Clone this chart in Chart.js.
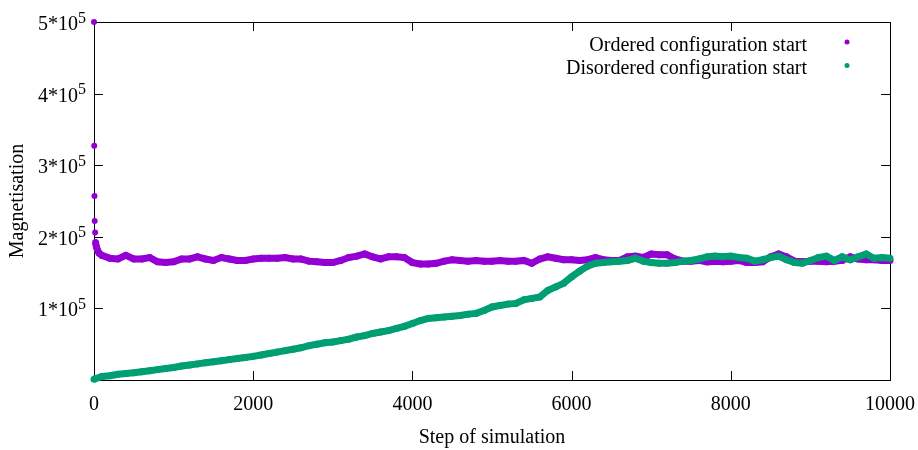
<!DOCTYPE html>
<html>
<head>
<meta charset="utf-8">
<script src="https://cdn.jsdelivr.net/npm/chart.js@4.4.0/dist/chart.umd.min.js"></script>
<style>
  html, body { margin: 0; padding: 0; background: #fff; }
</style>
</head>
<body>
<canvas id="chart" width="918" height="450"></canvas>
<script>
// steps of the simulation, one reading every 100 steps
const steps = [
  0, 100, 200, 300, 400, 500, 600, 700, 800, 900,
  1000, 1100, 1200, 1300, 1400, 1500, 1600, 1700, 1800, 1900,
  2000, 2100, 2200, 2300, 2400, 2500, 2600, 2700, 2800, 2900,
  3000, 3100, 3200, 3300, 3400, 3500, 3600, 3700, 3800, 3900,
  4000, 4100, 4200, 4300, 4400, 4500, 4600, 4700, 4800, 4900,
  5000, 5100, 5200, 5300, 5400, 5500, 5600, 5700, 5800, 5900,
  6000, 6100, 6200, 6300, 6400, 6500, 6600, 6700, 6800, 6900,
  7000, 7100, 7200, 7300, 7400, 7500, 7600, 7700, 7800, 7900,
  8000, 8100, 8200, 8300, 8400, 8500, 8600, 8700, 8800, 8900,
  9000, 9100, 9200, 9300, 9400, 9500, 9600, 9700, 9800, 9900, 10000
];

// ordered start: the first few steps fall off fast, drawn as loose dots
const orderedJumpSteps = [0, 3, 6, 9, 14];
const orderedJumpValues = [500000, 327000, 257000, 222000, 206000];
const orderedSettleSteps = [20, 30, 45, 65];
const orderedSettleValues = [192000, 186000, 181000, 177000];

// ordered start, from step 0 (index 0 is covered by the dots above)
const orderedValues = [
  null, 174000, 170000, 169000, 174000, 169000, 169000, 171000, 165000, 164000,
  165000, 169000, 169000, 172000, 169000, 167000, 171000, 169000, 167000, 167000,
  169000, 170000, 170000, 170000, 171000, 169000, 169000, 166000, 165000, 164000,
  164000, 167000, 171000, 173000, 176000, 172000, 169000, 172000, 172000, 171000,
  164000, 162000, 162000, 163000, 166000, 168000, 167000, 166000, 167000, 166000,
  166000, 167000, 166000, 166000, 167000, 163000, 169000, 172000, 170000, 168000,
  168000, 167000, 168000, 171000, 168000, 167000, 167000, 172000, 173000, 171000,
  176000, 175000, 175000, 169000, 166000, 166000, 167000, 165000, 166000, 165000,
  166000, 167000, 164000, 164000, 165000, 172000, 176000, 172000, 166000, 165000,
  166000, 166000, 165000, 166000, 167000, 172000, 169000, 168000, 168000, 167000, 167000
];

const disorderedValues = [
  1000, 5000, 6000, 8000, 9000, 10000, 11500, 13000, 14500, 16000,
  17500, 19500, 21000, 22500, 24000, 25500, 27000, 28500, 30000, 31500,
  33000, 35000, 37000, 39000, 41000, 43000, 45000, 48000, 50000, 52000,
  53000, 55000, 57000, 60000, 62000, 65000, 67000, 69000, 72000, 75000,
  79000, 83000, 86000, 87000, 88000, 89000, 90000, 92000, 93000, 97000,
  102000, 104000, 106000, 107000, 112000, 114000, 116000, 125000, 130000, 135000,
  144000, 152000, 159000, 163000, 164000, 165000, 166000, 167000, 170000, 166000,
  164000, 163000, 163000, 164000, 166000, 167000, 169000, 172000, 173000, 172000,
  173000, 171000, 170000, 166000, 168000, 171000, 173000, 168000, 164000, 163000,
  167000, 171000, 173000, 167000, 172000, 168000, 172000, 176000, 170000, 171000, 170000
];

const seriesNames = ['Ordered configuration start', 'Disordered configuration start'];
const seriesColors = ['#9400d3', '#009e73'];

const xTicks = [0, 2000, 4000, 6000, 8000, 10000];
const yTicks = [0, 100000, 200000, 300000, 400000, 500000];
const yTickLabels = ['', '1', '2', '3', '4', '5'];
const yTickExponent = '5';

const serif = 'Liberation Serif';

function pairs(xs, ys) {
  const out = [];
  xs.forEach((x, i) => { if (ys[i] != null) out.push({ x: x, y: ys[i] }); });
  return out;
}

const orderedBand = pairs(orderedSettleSteps, orderedSettleValues).concat(pairs(steps, orderedValues));

const axesDecor = {
  id: 'axesDecor',
  beforeDatasetsDraw(chart) {
    const { ctx, chartArea: a, scales: { x, y } } = chart;
    ctx.save();
    ctx.strokeStyle = '#000';
    ctx.lineWidth = 1;
    ctx.beginPath();
    xTicks.forEach(v => {
      const px = Math.round(x.getPixelForValue(v)) + 0.5;
      ctx.moveTo(px, a.bottom); ctx.lineTo(px, a.bottom - 9);
      ctx.moveTo(px, a.top); ctx.lineTo(px, a.top + 9);
    });
    yTicks.forEach(v => {
      const py = Math.round(y.getPixelForValue(v)) + 0.5;
      ctx.moveTo(a.left, py); ctx.lineTo(a.left + 9, py);
      ctx.moveTo(a.right, py); ctx.lineTo(a.right - 9, py);
    });
    ctx.stroke();
    ctx.strokeRect(Math.round(a.left) + 0.5, Math.round(a.top) + 0.5,
      Math.round(a.right - a.left), Math.round(a.bottom - a.top));
    ctx.restore();
  },
  afterDraw(chart) {
    const { ctx, scales: { y } } = chart;
    ctx.save();
    ctx.fillStyle = '#000';
    ctx.textAlign = 'right';
    ctx.textBaseline = 'alphabetic';
    yTicks.forEach((v, i) => {
      if (!yTickLabels[i]) return;
      const py = y.getPixelForValue(v);
      ctx.font = '16px "' + serif + '"';
      const supW = ctx.measureText(yTickExponent).width;
      ctx.fillText(yTickExponent, 86, py + 0.5);
      ctx.font = '20px "' + serif + '"';
      ctx.fillText(yTickLabels[i] + '*10', 86 - supW, py + 8);
    });

    // key, top right
    ctx.font = '20px "' + serif + '"';
    seriesNames.forEach((name, i) => {
      ctx.fillStyle = '#000';
      ctx.fillText(name, 807, 50.5 + i * 23.5);
      ctx.fillStyle = seriesColors[i];
      ctx.beginPath();
      ctx.arc(847, 42 + i * 23.5, 2.5, 0, Math.PI * 2);
      ctx.fill();
    });
    ctx.restore();
  }
};

new Chart(document.getElementById('chart'), {
  type: 'scatter',
  data: {
    datasets: [
      {
        label: seriesNames[1],
        data: pairs(steps, disorderedValues),
        showLine: true,
        borderColor: seriesColors[1],
        backgroundColor: seriesColors[1],
        borderWidth: 7,
        pointRadius: 3.5,
        pointBorderWidth: 0,
        clip: false,
        order: 0
      },
      {
        label: seriesNames[0],
        data: orderedBand,
        showLine: true,
        borderColor: seriesColors[0],
        backgroundColor: seriesColors[0],
        borderWidth: 7,
        pointRadius: 3.5,
        pointBorderWidth: 0,
        clip: false,
        order: 1
      },
      {
        label: seriesNames[0] + ' (first steps)',
        data: pairs(orderedJumpSteps, orderedJumpValues),
        showLine: false,
        backgroundColor: seriesColors[0],
        pointRadius: 3,
        pointBorderWidth: 0,
        clip: false,
        order: 2
      }
    ]
  },
  options: {
    responsive: false,
    devicePixelRatio: 1,
    animation: false,
    layout: { padding: { top: 22, right: 28, left: 0, bottom: 0 } },
    plugins: {
      legend: { display: false },
      tooltip: { enabled: false }
    },
    scales: {
      x: {
        type: 'linear',
        min: 0,
        max: 10000,
        afterFit: s => { s.height = 70; s.paddingLeft = 0; s.paddingRight = 0; },
        grid: { display: false, drawTicks: false },
        border: { display: false },
        ticks: {
          stepSize: 2000,
          padding: 13,
          color: '#000',
          maxRotation: 0,
          callback: v => String(v),
          font: { family: serif, size: 20 }
        },
        title: {
          display: true,
          text: 'Step of simulation',
          color: '#000',
          padding: { top: 0, bottom: 0 },
          font: { family: serif, size: 20 }
        }
      },
      y: {
        type: 'linear',
        min: 0,
        max: 500000,
        afterFit: s => { s.width = 94; s.paddingTop = 0; s.paddingBottom = 0; },
        grid: { display: false, drawTicks: false },
        border: { display: false },
        ticks: { display: false, stepSize: 100000 },
        title: {
          display: true,
          text: 'Magnetisation',
          color: '#000',
          padding: { top: 6, bottom: 0 },
          font: { family: serif, size: 20 }
        }
      }
    }
  },
  plugins: [axesDecor]
});
</script>
</body>
</html>
